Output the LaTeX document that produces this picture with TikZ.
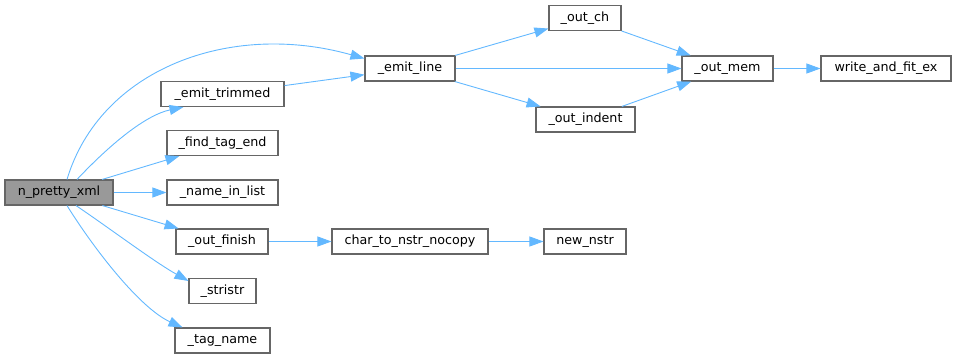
\documentclass[tikz,border=0pt]{standalone}
\usepackage{fontspec}
\setmainfont{DejaVu Sans}
\usetikzlibrary{arrows.meta}
\definecolor{edgeblue}{HTML}{63B8FF}
\definecolor{boxgray}{HTML}{666666}
\definecolor{rootfill}{HTML}{999999}

\begin{document}
\begin{tikzpicture}[
    x=1pt, y=-1pt,
    fn/.style={draw=boxgray, line width=1.1pt, minimum height=25pt, inner sep=0pt, font=\fontsize{12.7}{14}\selectfont},
    rootfn/.style={fn, fill=rootfill},
    call/.style={edgeblue, line width=0.9pt, -{Triangle[length=14pt, width=10pt]}}
]
\useasboundingbox (0,0) rectangle (956,359);
% caller
\node[rootfn, minimum width=108pt] (pretty) at (59,192.5) {n\_pretty\_xml};
% first column
\node[fn, minimum width=123pt] (trimmed) at (222.5,94) {\_emit\_trimmed};
\node[fn, minimum width=111pt] (findend) at (222.5,143) {\_find\_tag\_end};
\node[fn, minimum width=111pt] (inlist) at (222.5,192.5) {\_name\_in\_list};
\node[fn, minimum width=92pt] (finish) at (222,241.5) {\_out\_finish};
\node[fn, minimum width=67pt] (stristr) at (222.5,291) {\_stristr};
\node[fn, minimum width=95pt] (tagname) at (222.5,340.5) {\_tag\_name};
% second column
\node[fn, minimum width=90pt] (emitline) at (410,68.5) {\_emit\_line};
\node[fn, minimum width=156pt] (tonstr) at (410,241.5) {char\_to\_nstr\_nocopy};
% third column
\node[fn, minimum width=72pt] (outch) at (585,18) {\_out\_ch};
\node[fn, minimum width=99pt] (indent) at (585.5,119.5) {\_out\_indent};
\node[fn, minimum width=82pt] (newnstr) at (585,241.5) {new\_nstr};
% last columns
\node[fn, minimum width=91pt] (outmem) at (727.5,68.5) {\_out\_mem};
\node[fn, minimum width=130pt] (fitex) at (886,68.5) {write\_and\_fit\_ex};
% calls from n_pretty_xml
\draw[call] ([xshift=8pt]pretty.north) .. controls +(33,-110) and +(-135,-38) .. ([yshift=10pt]emitline.west);
\draw[call] ([xshift=18pt]pretty.north) .. controls +(33,-35) and +(-38,8) .. ([xshift=-39pt]trimmed.south);
\draw[call] (pretty) -- (findend);
\draw[call] (pretty) -- (inlist);
\draw[call] (pretty) -- (finish);
\draw[call] ([xshift=17pt]pretty.south) .. controls +(34,23) and +(-34,-19) .. ([yshift=-3pt]stristr.north west);
\draw[call] ([xshift=8pt]pretty.south) .. controls +(28,45) and +(-42,-19) .. ([xshift=-40pt]tagname.north);
% deeper calls
\draw[call] (trimmed) -- (emitline);
\draw[call] (emitline) -- (outch);
\draw[call] (emitline) -- (outmem);
\draw[call] (emitline) -- (indent);
\draw[call] (outch) -- (outmem);
\draw[call] (indent) -- (outmem);
\draw[call] (outmem) -- (fitex);
\draw[call] (finish) -- (tonstr);
\draw[call] (tonstr) -- (newnstr);
\end{tikzpicture}
\end{document}
